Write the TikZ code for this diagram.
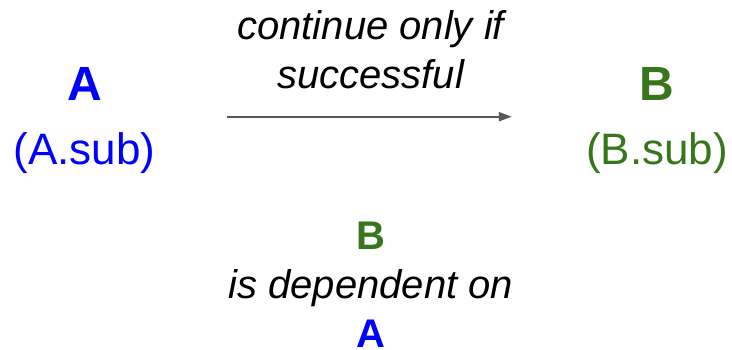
\documentclass[tikz,border=0pt]{standalone}
\usepackage{fontspec}
\setmainfont{Liberation Sans}
\usepackage{xcolor}
\usetikzlibrary{positioning,arrows.meta}
\definecolor{ablue}{HTML}{0000FF}
\definecolor{bgreen}{HTML}{38761D}
\definecolor{arrgray}{HTML}{595959}
\newcommand{\bigA}{{\fontsize{48}{64}\selectfont\bfseries A}}
\newcommand{\bigB}{{\fontsize{48}{64}\selectfont\bfseries B}}

\begin{document}
\begin{tikzpicture}[
  x=1pt, y=1pt,
  task/.style={align=center, inner sep=0pt, font=\fontsize{44}{64}\selectfont},
  lbl/.style={align=center, inner sep=0pt, text=black, font=\fontsize{40}{49}\selectfont\itshape},
  arr/.style={-{Triangle[length=13pt,width=9pt]}, line width=2pt, arrgray}
]
\useasboundingbox (0,0) rectangle (732,349);
\node[task, ablue] (a) at (84.5,228.5) {\bigA\\(A.sub)};
\node[task, bgreen] (b) at (657,228.5) {\bigB\\(B.sub)};
\draw[arr, shorten <=71pt, shorten >=74pt] ([yshift=3.8pt]a.east) -- node[lbl, above=26.5pt] (cond) {continue only if\\successful} coordinate[midway] (mid) ([yshift=3.8pt]b.west);
\node[lbl, below=105pt of mid] (dep) {\textcolor{bgreen}{\upshape\bfseries B}\\is dependent on\\\textcolor{ablue}{\upshape\bfseries A}};
\end{tikzpicture}
\end{document}
